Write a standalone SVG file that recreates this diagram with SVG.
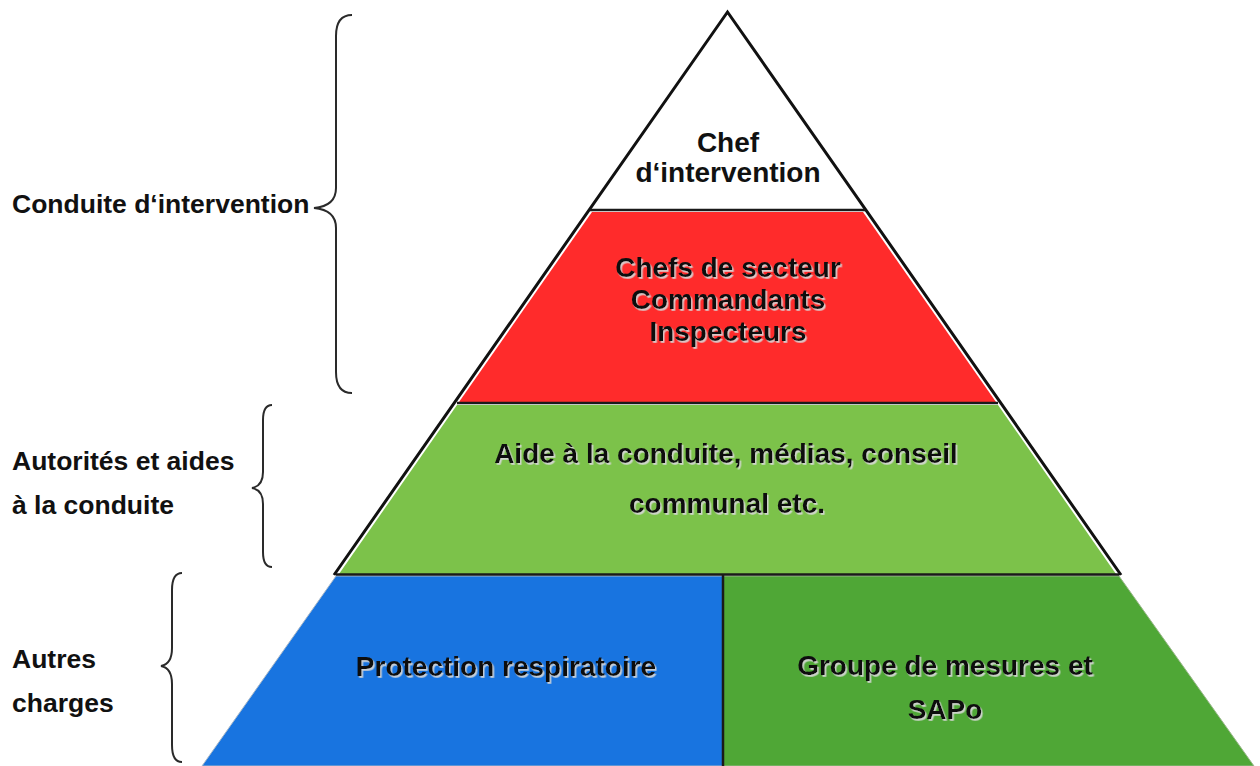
<svg xmlns="http://www.w3.org/2000/svg" width="1260" height="766" viewBox="0 0 1260 766">
<style>
.t{font-family:"Liberation Sans",Arial,sans-serif;font-weight:bold;font-size:28px;fill:#111;text-anchor:middle}
.sh{filter:url(#shadow)}
.lbl{font-family:"Liberation Sans",Arial,sans-serif;font-weight:bold;font-size:26.5px;fill:#111}
.brace{fill:none;stroke:#2a2a2a;stroke-width:2}
.sep{stroke:#1a1a1a;stroke-width:2.5}
.edge{fill:none;stroke:#111;stroke-width:3;stroke-linejoin:miter}
</style>
<defs>
<filter id="shadow" x="-5%" y="-20%" width="110%" height="140%">
<feDropShadow dx="1.5" dy="1.8" stdDeviation="0.4" flood-color="#d8d8d8" flood-opacity="0.9"/>
</filter>
</defs>
<rect width="1260" height="766" fill="#fff"/>

<g id="layer-top">
<polygon points="727.5,14 591,210 864,210" fill="#fff"/>
<text class="t" x="728" y="152">Chef</text>
<text class="t" x="728" y="182">d‘intervention</text>
</g>

<g id="layer-red">
<polygon points="592,212 863,212 996,402 459,402" fill="#ff2b2b"/>
<g class="t sh">
<text x="728" y="277">Chefs de secteur</text>
<text x="728" y="309">Commandants</text>
<text x="728" y="341">Inspecteurs</text>
</g>
</g>

<g id="layer-green">
<polygon points="457,405 998,405 1116,574 339,574" fill="#7cc24a"/>
<g class="t sh">
<text x="726" y="463">Aide à la conduite, médias, conseil</text>
<text x="727" y="513">communal etc.</text>
</g>
</g>

<g id="layer-blue">
<polygon points="336,576 723,576 723,766 202,766" fill="#1874e0" stroke="#a8b8c8" stroke-width="1"/>
<text class="t sh" x="506" y="676">Protection respiratoire</text>
</g>

<g id="layer-darkgreen">
<polygon points="723,576 1119,576 1254,766 723,766" fill="#4fa736" stroke="#9bb88c" stroke-width="1"/>
<g class="t sh">
<text x="945" y="675">Groupe de mesures et</text>
<text x="945" y="719">SAPo</text>
</g>
</g>

<g id="outline">
<polyline class="edge" points="334,575 727.5,12 1121,575"/>
<line class="sep" x1="590" y1="210" x2="865" y2="210"/>
<line class="sep" x1="457" y1="403" x2="998" y2="403"/>
<line class="sep" x1="336" y1="574.5" x2="1119" y2="574.5"/>
<line class="sep" x1="723" y1="575" x2="723" y2="766"/>
</g>

<g id="label-conduite">
<text class="lbl" x="12" y="213">Conduite d‘intervention</text>
</g>
<g id="label-autorites">
<text class="lbl" x="12" y="470">Autorités et aides</text>
<text class="lbl" x="12" y="514">à la conduite</text>
</g>
<g id="label-autres">
<text class="lbl" x="12" y="668">Autres</text>
<text class="lbl" x="12" y="712">charges</text>
</g>

<g id="connectors">
<path class="brace" d="M352,15 Q336,15 336,36 L336,188 Q336,206 314,208 Q336,210 336,228 L336,372 Q336,393 352,393"/>
<path class="brace" d="M272,405 Q263,405 263,420 L263,472 Q263,486 252,488 Q263,490 263,504 L263,552 Q263,567 272,567"/>
<path class="brace" d="M182,573 Q172,573 172,590 L172,648 Q172,664 161,666 Q172,668 172,684 L172,745 Q172,762 182,762"/>
</g>
</svg>
